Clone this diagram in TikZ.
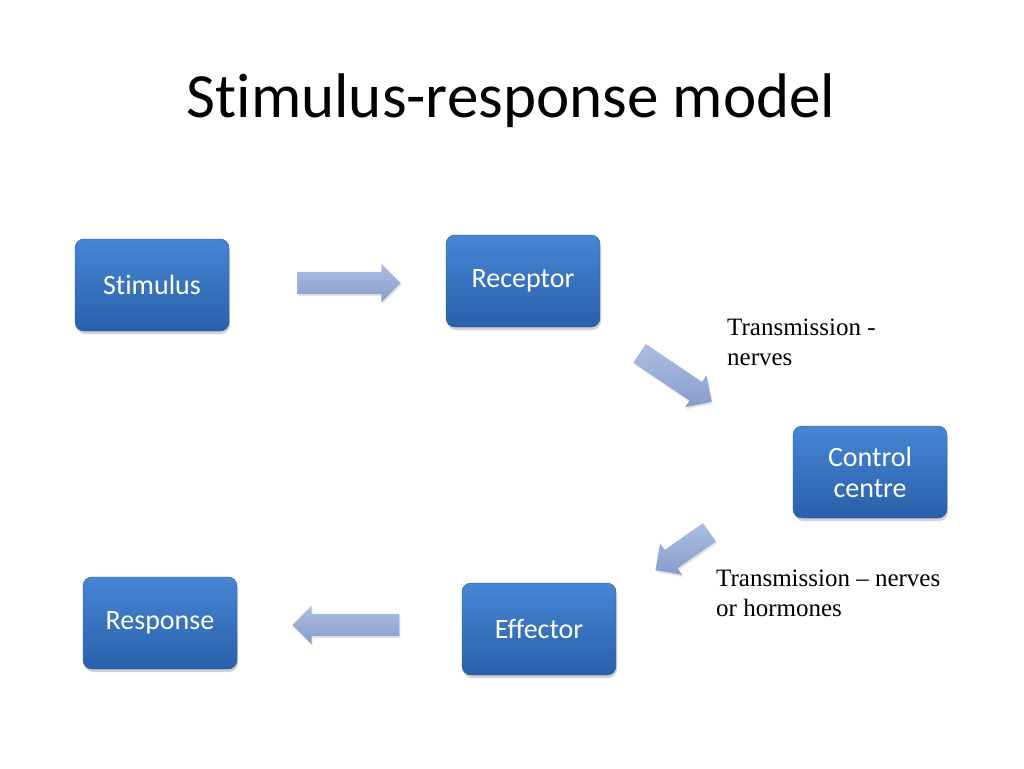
\documentclass[tikz,border=0pt]{standalone}
\usepackage{fontspec}
\setmainfont{Liberation Serif}
\newfontfamily\calibri[Ligatures=NoCommon]{Carlito}
\usetikzlibrary{shapes.arrows,shadows}
\definecolor{boxtop}{RGB}{70,134,212}
\definecolor{boxbot}{RGB}{42,96,170}
\definecolor{arrtop}{RGB}{172,190,226}
\definecolor{arrbot}{RGB}{134,157,203}
\tikzset{
  stagebox/.style={rounded corners=9pt, minimum width=154pt, minimum height=92pt,
    top color=boxtop, bottom color=boxbot, draw=boxbot!90!black, line width=0.4pt,
    drop shadow={opacity=0.35, shadow xshift=1pt, shadow yshift=-3pt},
    text=white, align=center, font=\calibri\fontsize{28}{31}\selectfont},
  flowarrow/.style={single arrow, single arrow head extend=8pt, inner xsep=0pt,
    inner ysep=11pt, top color=arrtop, bottom color=arrbot, draw=none,
    drop shadow={opacity=0.2, shadow xshift=1pt, shadow yshift=-2pt}},
  note/.style={align=left, inner sep=0pt, anchor=north west,
    font=\fontsize{25}{30}\selectfont}
}
\begin{document}
\begin{tikzpicture}[x=1pt,y=-1pt]
\useasboundingbox[fill=white] (0,0) rectangle (1024,768);
% title
\node[anchor=base, inner sep=0pt, font=\calibri\fontsize{63}{70}\selectfont] (title) at (511,117) {Stimulus-response model};
% stages
\node[stagebox] (stim) at (152,285) {Stimulus};
\node[stagebox] (rec) at (523,281) {Receptor};
\node[stagebox] (ctrl) at (870,472) {Control\\centre};
\node[stagebox] (eff) at (539,629) {Effector};
\node[stagebox] (resp) at (160,623) {Response};
% arrows between stages
\node[flowarrow, minimum height=103pt] (a1) at (343.5,283) {};
\node[flowarrow, minimum height=87pt, rotate=-34] (a2) at (671,374.5) {};
\node[flowarrow, minimum height=66pt, rotate=215] (a3) at (687,548) {};
\node[flowarrow, minimum height=107pt, rotate=180] (a4) at (351.5,625) {};
% notes
\node[note] (n1) at (727,319) {Transmission -\\nerves};
\node[note] (n2) at (716,570) {Transmission -- nerves\\or hormones};
\end{tikzpicture}
\end{document}
